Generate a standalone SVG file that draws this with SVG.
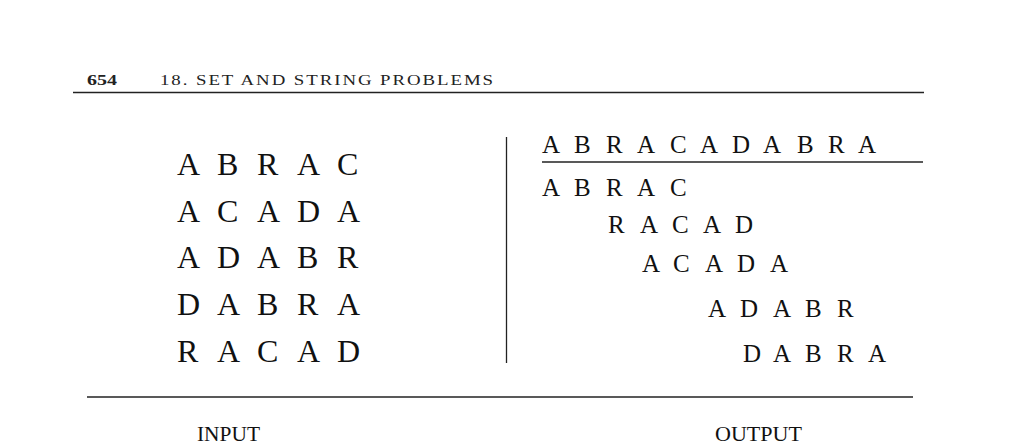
<svg xmlns="http://www.w3.org/2000/svg" width="1024" height="447" viewBox="0 0 1024 447">
<style>
.hdr{font-family:"Liberation Serif","Times New Roman",serif;fill:#222}
.big{font-family:"Liberation Serif","Times New Roman",serif;font-size:32px;fill:#111}
.med{font-family:"Liberation Serif","Times New Roman",serif;font-size:25px;fill:#111}
.lab{font-family:"Liberation Serif","Times New Roman",serif;font-size:20px;fill:#111}
.rule{stroke:#222;stroke-width:1.3;fill:none}
</style>
<rect width="1024" height="447" fill="#fff"/>
<g id="header">
<text class="hdr" x="87" y="85" font-size="15" font-weight="bold" textLength="30" lengthAdjust="spacingAndGlyphs">654</text>
<text class="hdr" x="160" y="85" font-size="14.5" letter-spacing="1.5" textLength="335" lengthAdjust="spacingAndGlyphs">18. SET AND STRING PROBLEMS</text>
<line class="rule" x1="73" y1="92.5" x2="924" y2="92.5"/>
</g>
<g id="input">
<text class="big" y="175" x="177 217 257 297 337">ABRAC</text>
<text class="big" y="222" x="177 217 257 297 337">ACADA</text>
<text class="big" y="268" x="177 217 257 297 337">ADABR</text>
<text class="big" y="315" x="177 217 257 297 337">DABRA</text>
<text class="big" y="362" x="177 217 257 297 337">RACAD</text>
</g>
<g id="divider">
<line class="rule" x1="506.5" y1="137" x2="506.5" y2="363"/>
</g>
<g id="output">
<text class="med" y="153" x="542 574 606 637 670 700 732 763 797 828 858">ABRACADABRA</text>
<line class="rule" x1="542" y1="162" x2="923" y2="162"/>
<text class="med" y="196" x="542 574 606 637 670">ABRAC</text>
<text class="med" y="233" x="608 640 672 703 735">RACAD</text>
<text class="med" y="272" x="642 673 705 737 770">ACADA</text>
<text class="med" y="317" x="708 740 773 805 837">ADABR</text>
<text class="med" y="362" x="743 773 805 837 868">DABRA</text>
</g>
<g id="footer">
<line class="rule" x1="87" y1="397" x2="913" y2="397"/>
<text class="lab" x="197" y="441" textLength="63" lengthAdjust="spacingAndGlyphs">INPUT</text>
<text class="lab" x="715" y="441" textLength="87" lengthAdjust="spacingAndGlyphs">OUTPUT</text>
</g>
</svg>
